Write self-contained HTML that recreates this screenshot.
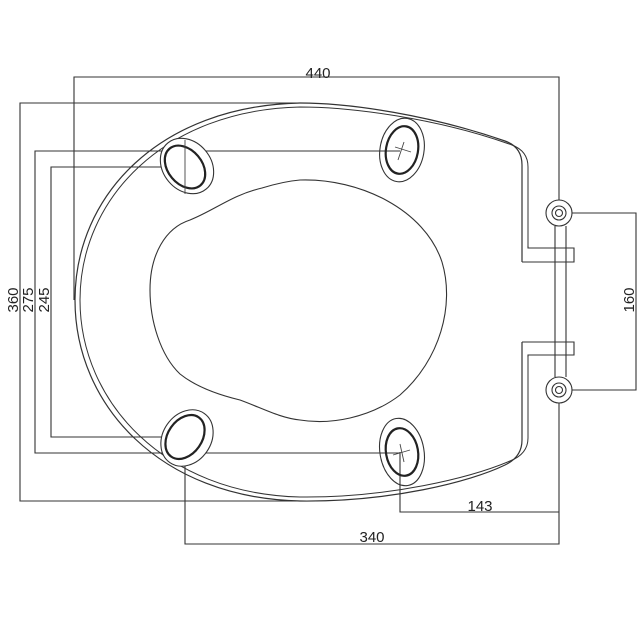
<!DOCTYPE html>
<html><head><meta charset="utf-8"><style>
html,body{margin:0;padding:0;background:#fff;}
svg{display:block}
text{font-family:"Liberation Sans",sans-serif;font-size:15px;fill:#222}
</style></head><body>
<svg width="643" height="643" viewBox="0 0 643 643" xmlns="http://www.w3.org/2000/svg">
<g fill="none" stroke="#333" stroke-width="1.1">
<!-- dimension lines -->
<polyline points="74,300 74,77 559,77 559,200"/>
<polyline points="300,103 20,103 20,501 300,501"/>
<polyline points="400,151 35,151 35,453 400,453"/>
<polyline points="210,167 51,167 51,437 165,437"/>
<polyline points="572,213 636,213 636,390 572,390"/>
<polyline points="400,452 400,512 559,512"/>
<polyline points="185,437 185,544 559,544 559,403"/>
<!-- seat outer -->
<path d="M522,262 L522,165 Q522,147 505,141 C430,115 350,103 300,103 C160,106 75,195 75,300 C75,405 160,498 300,501 C390,502 470,482 505,465 Q522,457 522,440 L522,342" stroke-width="1.2"/>
<path d="M528,246 L528,167 Q528,151 512,145 C437,118 350,107 300,107 C165,110 80,198 80,300 C80,402 165,494 300,497 C388,498 470,478 510,461 Q528,454 528,438 L528,357" stroke-width="1"/>
<!-- notches -->
<polyline points="522,262 574,262 574,248 528,248 528,246"/>
<polyline points="522,342 574,342 574,355 528,355 528,357"/>
<!-- hinge bars -->
<line x1="555" y1="226" x2="555" y2="377"/><line x1="566" y1="226" x2="566" y2="377"/>
<circle cx="559" cy="213" r="13"/><circle cx="559" cy="213" r="7"/><circle cx="559" cy="213" r="3.5"/>
<circle cx="559" cy="390" r="13"/><circle cx="559" cy="390" r="7"/><circle cx="559" cy="390" r="3.5"/>
<!-- inner opening -->
<path d="M300,180 C360,178 425,210 442,262 C455,305 440,360 400,395 C370,418 330,425 300,420 C280,418 262,408 240,400 C215,394 195,386 180,374 C160,355 150,320 150,290 C150,255 165,228 190,220 C215,210 232,195 262,188 C275,184 288,181 300,180 Z"/>
<!-- bosses -->
<ellipse cx="187" cy="166" rx="24" ry="30" transform="rotate(-40 187 166)" fill="#fff"/>
<ellipse cx="187" cy="438" rx="24" ry="30" transform="rotate(35 187 438)" fill="#fff"/>
<ellipse cx="402" cy="150" rx="22" ry="32" transform="rotate(10 402 150)"/>
<ellipse cx="402" cy="452" rx="22" ry="34" transform="rotate(-10 402 452)"/>
</g>
<g fill="none" stroke="#222" stroke-width="2.2">
<ellipse cx="185" cy="167" rx="17" ry="24" transform="rotate(-40 185 167)"/>
<ellipse cx="185" cy="437" rx="17" ry="24" transform="rotate(35 185 437)"/>
<ellipse cx="402" cy="150" rx="16" ry="24" transform="rotate(10 402 150)"/>
<ellipse cx="402" cy="452" rx="16" ry="24" transform="rotate(-10 402 452)"/>
</g>
<g stroke="#444" stroke-width="0.9">
<line x1="395" y1="147" x2="411" y2="152"/><line x1="404" y1="142" x2="398" y2="160"/>
<line x1="393" y1="455" x2="410" y2="450"/><line x1="400" y1="444" x2="404" y2="462"/>
<line x1="185" y1="140" x2="185" y2="194"/>
</g>
<text x="318" y="78" text-anchor="middle">440</text>
<text x="372" y="542" text-anchor="middle">340</text>
<text x="480" y="511" text-anchor="middle">143</text>
<text transform="translate(18,300) rotate(-90)" text-anchor="middle">360</text>
<text transform="translate(33,300) rotate(-90)" text-anchor="middle">275</text>
<text transform="translate(49,300) rotate(-90)" text-anchor="middle">245</text>
<text transform="translate(634,300) rotate(-90)" text-anchor="middle">160</text>
</svg>
</body></html>
